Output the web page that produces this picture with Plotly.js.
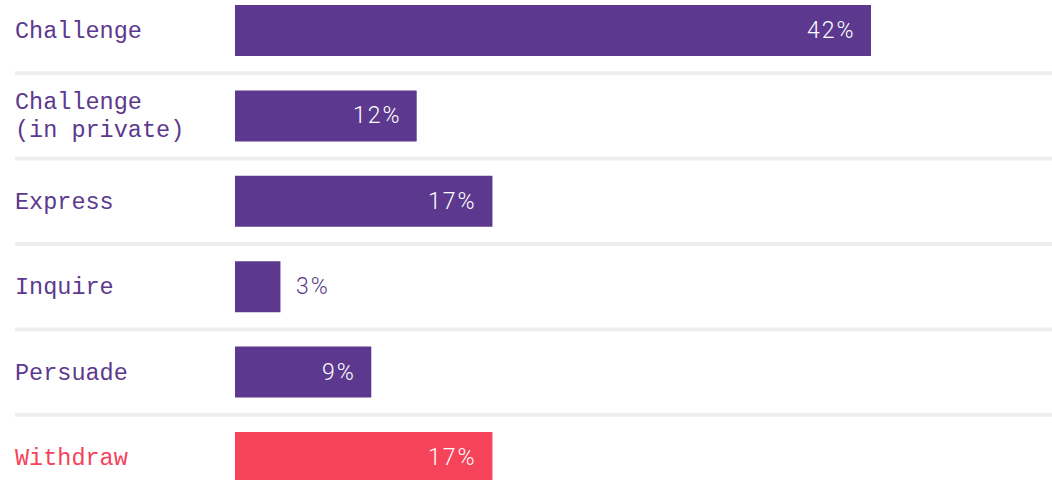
<!DOCTYPE html>
<html><head><meta charset="utf-8">
<script src="https://cdn.plot.ly/plotly-3.0.1.min.js"></script>
<style>html,body{margin:0;padding:0;background:#fff;} #chart{width:1052px;height:480px;}
text.annotation-text[style*="Roboto"]{letter-spacing:2px;}</style>
</head><body><div id="chart"></div>
<script>
const categories = ["Challenge", "Challenge<br>(in private)", "Express", "Inquire", "Persuade", "Withdraw"];
const values = [42, 12, 17, 3, 9, 17];
const valueLabels = ["42%", "12%", "17%", "3%", "9%", "17%"];
const highlight = [false, false, false, false, false, true];

const PURPLE = "#5c398e", RED = "#f5435a";
const colors = highlight.map(h => h ? RED : PURPLE);

const W = 1052, L = 235, R = 181;
const plotW = W - L - R;
const labelX = (15 - L) / plotW;
const sepX1 = (W - L) / plotW;
const LINE_H = 28;

const idx = categories.map((_, i) => i);

const annotations = [];
categories.forEach((c, i) => {
  const lines = c.split("<br>");
  lines.forEach((ln, k) => {
    annotations.push({
      x: labelX, xref: "paper", y: i, yref: "y", text: ln, showarrow: false,
      xanchor: "left", yanchor: "middle", align: "left", xshift: -2,
      yshift: -1 - (k - (lines.length - 1) / 2) * LINE_H,
      font: {family: "Liberation Mono, DejaVu Sans Mono, monospace", size: 23.5, color: colors[i]}
    });
  });
  const inside = values[i] >= 5;
  annotations.push({
    x: values[i], xref: "x", y: i, yref: "y", text: valueLabels[i], showarrow: false,
    xanchor: inside ? "right" : "left", yanchor: "middle",
    xshift: inside ? -13 : 14, yshift: 0,
    font: {family: "Roboto, sans-serif", size: 23, weight: 300, color: inside ? "#ffffff" : colors[i]}
  });
});

const shapes = [];
for (let i = 0; i < categories.length - 1; i++) {
  shapes.push({type: "line", xref: "paper", yref: "y", x0: labelX, x1: sepX1, y0: i + 0.5, y1: i + 0.5,
    line: {color: "#eeeeee", width: 4}, layer: "below"});
}

Plotly.newPlot("chart", [{
  type: "bar", orientation: "h", x: values, y: idx,
  marker: {color: colors, line: {width: 0}}, width: 0.597, hoverinfo: "none"
}], {
  width: 1052, height: 480,
  margin: {l: L, r: R, t: 0, b: 0, pad: 0},
  paper_bgcolor: "#fff", plot_bgcolor: "#fff",
  showlegend: false,
  xaxis: {range: [0, 42], visible: false, fixedrange: true},
  yaxis: {range: [(480 - 30.5) / 85.4, -30.5 / 85.4], visible: false, fixedrange: true},
  annotations: annotations, shapes: shapes
}, {displayModeBar: false, staticPlot: true});
</script></body></html>
